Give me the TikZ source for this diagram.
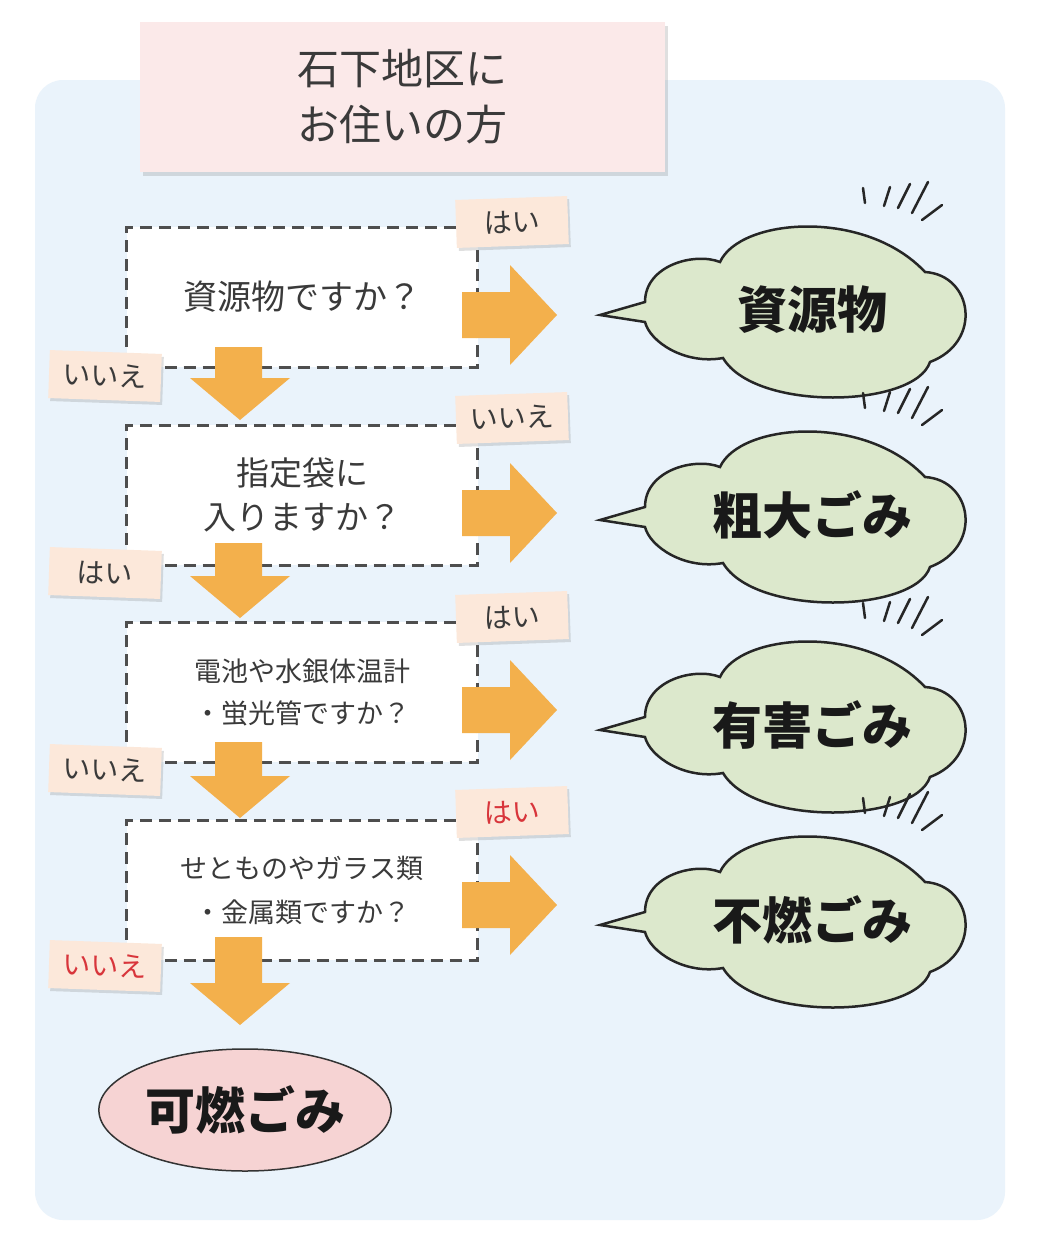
\documentclass[tikz,border=0pt]{standalone}
\usepackage{fontspec}
\setmainfont{Noto Sans CJK JP}
\usetikzlibrary{shapes.geometric,shadows}
\definecolor{bgblue}{HTML}{EAF3FB}
\definecolor{titlepink}{HTML}{FBE9E9}
\definecolor{tagpeach}{HTML}{FCE8DA}
\definecolor{arrorange}{HTML}{F3B04C}
\definecolor{cloudgreen}{HTML}{DCE8CC}
\definecolor{ellpink}{HTML}{F6D3D3}
\definecolor{txtgrey}{HTML}{3A3A3A}
\definecolor{redtxt}{HTML}{D8353B}
\tikzset{
  qbox/.style={draw=txtgrey!90, dashed, dash pattern=on 12pt off 7pt, line width=3pt, fill=white, minimum width=351pt, minimum height=140pt, align=center, text=txtgrey},
  tagbox/.style={fill=tagpeach, minimum width=112pt, minimum height=48pt, drop shadow={shadow xshift=2pt,shadow yshift=-3pt,opacity=0.25}, font=\fontsize{28}{30}\selectfont, text=txtgrey},
  cloudline/.style={draw=black!85, line width=2.5pt, fill=cloudgreen},
  cloudtext/.style={font=\fontsize{50}{56}\selectfont\bfseries, text=black!90},
  tick/.style={line width=2.5pt, draw=black!85, line cap=round}
}
\newcommand{\rarr}[1]{\fill[arrorange] (462,#1-23) -- (510,#1-23) -- (510,#1-50) -- (557,#1) -- (510,#1+50) -- (510,#1+23) -- (462,#1+23) -- cycle;}
\newcommand{\darr}[2]{\fill[arrorange] (215,#1) -- (262,#1) -- (262,#2-42) -- (290,#2-42) -- (240,#2) -- (190,#2-42) -- (215,#2-42) -- cycle;}
\newcommand{\mycloud}[3]{%
  \begin{scope}[shift={(795,#1)}]
  \draw[cloudline] (-150,-8)
    .. controls (-150,-45) and (-100,-58) .. (-75,-48)
    .. controls (-55,-92) and (70,-102) .. (130,-38)
    .. controls (178,-35) and (188,32) .. (135,52)
    .. controls (120,98) and (-40,102) .. (-72,48)
    .. controls (-110,55) and (-145,32) .. (-150,12)
    -- (-195,5) -- cycle;
  \end{scope}
  \node[cloudtext] (#3) at (812,#1) {#2};
  \draw[tick] (863,#1-122) -- (865,#1-107);
  \draw[tick] (890,#1-123) -- (884,#1-104);
  \draw[tick] (910,#1-126) -- (898,#1-102);
  \draw[tick] (928,#1-128) -- (912,#1-97);
  \draw[tick] (942,#1-105) -- (922,#1-90);
}
\begin{document}
\begin{tikzpicture}[x=1pt,y=-1pt]
\useasboundingbox (0,0) rectangle (1050,1250);
\fill[white] (0,0) rectangle (1050,1250);
\fill[bgblue, rounded corners=28pt] (35,80) rectangle (1005,1220);
\node[fill=titlepink, minimum width=525pt, minimum height=150pt, align=center, text=txtgrey, font=\fontsize{42}{56}\selectfont, drop shadow={shadow xshift=3pt,shadow yshift=-4pt,opacity=0.25}] (title) at (402,97) {石下地区に\\お住いの方};

\node[qbox, font=\fontsize{34}{44}\selectfont] (q1) at (302,297) {資源物ですか？};
\node[qbox, font=\fontsize{33}{44}\selectfont] (q2) at (302,495) {指定袋に\\入りますか？};
\node[qbox, font=\fontsize{27}{42}\selectfont] (q3) at (302,692) {電池や水銀体温計\\・蛍光管ですか？};
\node[qbox, font=\fontsize{27}{44}\selectfont] (q4) at (302,890) {せとものやガラス類\\・金属類ですか？};

\rarr{315}\rarr{513}\rarr{710}\rarr{905}
\darr{347}{420}\darr{543}{618}\darr{742}{818}\darr{937}{1025}

\node[tagbox, rotate=2] (t1) at (512,222) {はい};
\node[tagbox, rotate=-2] (t2) at (105,376) {いいえ};
\node[tagbox, rotate=2] (t3) at (512,418) {いいえ};
\node[tagbox, rotate=-2] (t4) at (105,573) {はい};
\node[tagbox, rotate=2] (t5) at (512,617) {はい};
\node[tagbox, rotate=-2] (t6) at (105,770) {いいえ};
\node[tagbox, rotate=2, text=redtxt] (t7) at (512,812) {はい};
\node[tagbox, rotate=-2, text=redtxt] (t8) at (105,966) {いいえ};

\mycloud{310}{資源物}{c1}
\mycloud{515}{粗大ごみ}{c2}
\mycloud{725}{有害ごみ}{c3}
\mycloud{920}{不燃ごみ}{c4}

\node[ellipse, fill=ellpink, draw=black!80, line width=1.5pt, minimum width=280pt, minimum height=122pt, font=\fontsize{50}{56}\selectfont\bfseries, text=black!90] (burn) at (245,1110) {可燃ごみ};
\end{tikzpicture}
\end{document}
